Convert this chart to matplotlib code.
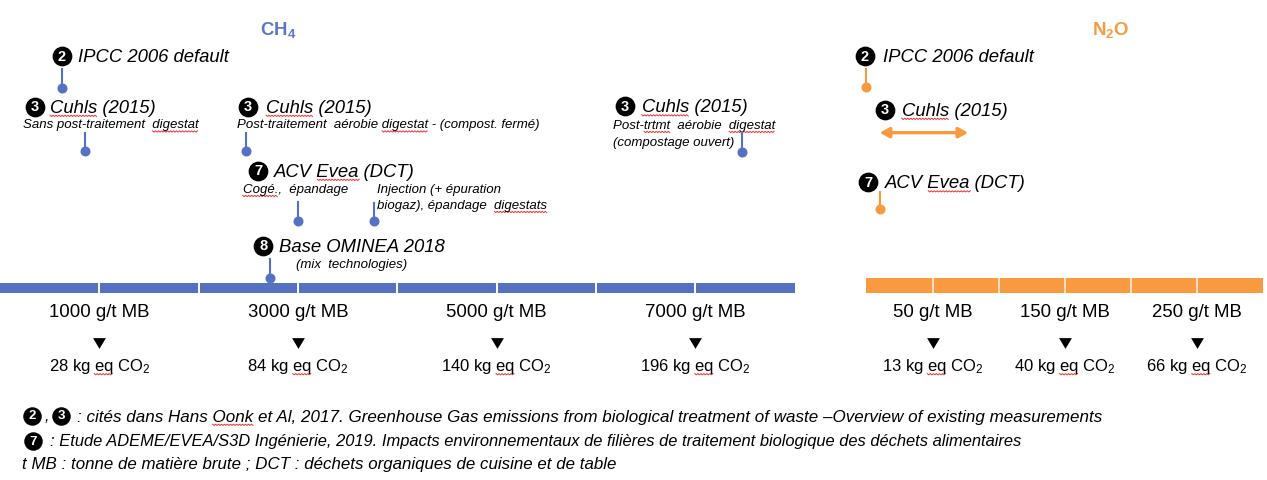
import matplotlib
matplotlib.use('Agg')
import matplotlib.pyplot as plt
from matplotlib import font_manager as fm
import numpy as np

plt.rcParams['font.family'] = ['Liberation Sans', 'DejaVu Sans']
plt.rcParams['mathtext.fontset'] = 'custom'
plt.rcParams['mathtext.rm'] = 'Liberation Sans'
plt.rcParams['mathtext.it'] = 'Liberation Sans:italic'
plt.rcParams['mathtext.bf'] = 'Liberation Sans:bold'

# ---------------- data ----------------
ch4_ticks = [1000, 3000, 5000, 7000]          # g/t MB
ch4_co2 = [28, 84, 140, 196]                  # kg eq CO2
ch4_max = 8000
ch4_step = 1000
n2o_ticks = [50, 150, 250]
n2o_co2 = [13, 40, 66]
n2o_max = 300
n2o_step = 50

ch4_sources = ['IPCC 2006 default', 'Cuhls (2015) sans post-traitement',
               'Cuhls (2015) compost. fermé', 'ACV Evea cogé.',
               'ACV Evea injection', 'Base OMINEA 2018',
               'Cuhls (2015) compostage ouvert']
ch4_values = [627, 856, 2477, 2997, 3765, 2721, 7470]
n2o_sources = ['IPCC 2006 default', 'ACV Evea (DCT)']
n2o_values = [0, 10]
n2o_cuhls_range = [10, 77]

# ---------------- style / layout ----------------
BLUE = '#5572c2'
TITLE_BLUE = '#5d77c6'
ORANGE = '#f99a3e'
W, H, DPI = 1267, 480, 100

fig = plt.figure(figsize=(W / DPI, H / DPI), dpi=DPI)
fig.patch.set_facecolor('white')
lay = fig.add_axes([0, 0, 1, 1]); lay.set_xlim(0, W); lay.set_ylim(H, 0); lay.axis('off')
CH4_PX = 0.09933                      # px per g/t
axc = fig.add_axes([0, 0, 1, 1]); axc.set_xlim(0, W / CH4_PX); axc.set_ylim(H, 0); axc.axis('off')
N2O_X0, N2O_PX = 866.4, 1.3225
axn = fig.add_axes([0, 0, 1, 1]); axn.set_xlim(-N2O_X0 / N2O_PX, (W - N2O_X0) / N2O_PX)
axn.set_ylim(H, 0); axn.axis('off')

renderer = fig.canvas.get_renderer()
names = {f.name for f in fm.fontManager.ttflist}
FOOT_FAM = ['Liberation Sans Narrow', 'DejaVu Sans'] if 'Liberation Sans Narrow' in names else ['Liberation Sans', 'DejaVu Sans']


def base(yc, size):
    return yc + 0.358 * size / 0.72


def measure(s, size, **kw):
    t = lay.text(0, 0, s, fontsize=size, **kw)
    w = t.get_window_extent(renderer=renderer).width
    t.remove()
    return w


def squiggle(x0, x1, yb):
    xs = np.arange(x0, x1 + 0.01, 1.5)
    ys = yb + 2.6 + np.where(np.arange(len(xs)) % 2 == 0, 0.0, 1.3)
    lay.plot(xs, ys, color='#e8322e', lw=0.7, solid_joinstyle='miter')


def txt(x, yc, s, size, words=(), ha='left', ax=None, **kw):
    ax = ax or lay
    yb = base(yc, size)
    t = ax.text(x, yb, s, fontsize=size, va='baseline', ha=ha, **kw)
    if words:
        xpix = ax.transData.transform((x, yb))[0]
        total = measure(s, size, **kw)
        start = xpix - (total / 2 if ha == 'center' else 0)
        for wd in words:
            i = s.index(wd)
            pre = s[:i] + wd
            e = start + measure(pre, size, **kw)
            b = e - measure(wd, size, **kw)
            squiggle(b, e, yb)
    return t


def numbadge(cx, cy, d, ms=13.2, fs=10.5):
    lay.plot(cx, cy, 'o', ms=ms, color='black', mec='black', zorder=5)
    lay.text(cx, cy + 0.6, d, color='white', fontsize=fs, fontweight='bold',
             ha='center', va='center', zorder=6)


LBL = 13.3
SUB = 9.5

# ---------------- titles ----------------
lay.text(277.7, 30, r'$\mathbf{CH_4}$', color=TITLE_BLUE, fontsize=13.4, ha='center', va='center')
lay.text(1111, 30, r'$\mathbf{N_2O}$', color=ORANGE, fontsize=13.4, ha='center', va='center')

# ---------------- scale bars ----------------
axc.barh(288, ch4_max, left=0, height=10, color=BLUE)
axc.vlines(np.arange(ch4_step, ch4_max, ch4_step), 283, 293, color='white', lw=1.4)
axn.barh(285.5, n2o_max, left=0, height=15, color=ORANGE)
axn.vlines(np.arange(n2o_step, n2o_max, n2o_step), 278, 293, color='#fde3cc', lw=1.4)

tri = [(-1, 0.84), (1, 0.84), (0, -0.84)]
for ax, ticks, co2 in ((axc, ch4_ticks, ch4_co2), (axn, n2o_ticks, n2o_co2)):
    for v, c in zip(ticks, co2):
        ax.text(v, base(310.5, 13.4), f'{v} g/t MB', fontsize=13.4, ha='center', va='baseline')
        ax.plot(v, 343.3, marker=tri, ms=9.2, color='black', mew=0)
        txt(v, 365, f'{c} kg eq CO$_2$', 12, words=('eq',), ha='center', ax=ax)

# ---------------- CH4 source markers ----------------
ch4_pos = [(87.5, 69), (151, 133), (151, 133), (221, 202), (221, 203), (278, 259), (151.5, 132)]
for v, (yd, yt) in zip(ch4_values, ch4_pos):
    axc.plot([v, v], [yt, yd], color=BLUE, lw=1.5)
    axc.plot(v, yd, 'o', ms=6.2, color=BLUE)

# ---------------- N2O source markers ----------------
n2o_pos = [(87.3, 69), (209, 192)]
for v, (yd, yt) in zip(n2o_values, n2o_pos):
    axn.plot([v, v], [yt, yd], color=ORANGE, lw=1.5)
    axn.plot(v, yd, 'o', ms=6.2, color=ORANGE)
axn.annotate('', xy=(n2o_cuhls_range[1], 132.7), xytext=(n2o_cuhls_range[0], 132.7),
             arrowprops=dict(arrowstyle='<|-|>,head_length=0.55,head_width=0.3',
                             color=ORANGE, lw=2.4, shrinkA=0, shrinkB=0))

# ---------------- labels ----------------
IT = dict(style='italic')
numbadge(62, 56, '2');      txt(78.3, 55.5, 'IPCC 2006 default', LBL, **IT)
numbadge(34.5, 106.5, '3'); txt(50, 106, 'Cuhls (2015)', LBL, words=('Cuhls',), **IT)
txt(23.3, 123.5, 'Sans post-traitement  digestat', SUB, words=('digestat',), **IT)
numbadge(248, 106.5, '3');  txt(266, 106, 'Cuhls (2015)', LBL, words=('Cuhls',), **IT)
txt(237.3, 123.5, 'Post-traitement  aérobie digestat - (compost. fermé)', SUB, words=('digestat',), **IT)
numbadge(258, 170.5, '7');  txt(274, 170, 'ACV Evea (DCT)', LBL, words=('Evea',), **IT)
txt(242.7, 188, 'Cogé.,  épandage', SUB, words=('Cogé.',), **IT)
txt(377.3, 188, 'Injection (+ épuration', SUB, **IT)
txt(377.3, 204, 'biogaz), épandage  digestats', SUB, words=('digestats',), **IT)
numbadge(263.3, 245.5, '8'); txt(279, 245, 'Base OMINEA 2018', LBL, **IT)
txt(296, 263.5, '(mix  technologies)', SUB, **IT)
numbadge(624.7, 106, '3');  txt(641.7, 105.5, 'Cuhls (2015)', LBL, words=('Cuhls',), **IT)
txt(613.3, 124, 'Post-trtmt  aérobie  digestat', SUB, words=('trtmt', 'digestat'), **IT)
txt(613.3, 141.5, '(compostage ouvert)', SUB, **IT)

numbadge(865, 56, '2');     txt(882.7, 55.5, 'IPCC 2006 default', LBL, **IT)
numbadge(885, 109.5, '3');  txt(901.7, 109, 'Cuhls (2015)', LBL, words=('Cuhls',), **IT)
numbadge(868.3, 182, '7');  txt(885, 181.5, 'ACV Evea (DCT)', LBL, words=('Evea',), **IT)

# ---------------- footnotes ----------------
def fit(x, yc, s, right, words=()):
    size = 12.0
    w = measure(s, size, family=FOOT_FAM, style='italic')
    size = size * (right - x) / w
    txt(x, yc, s, size, words=words, family=FOOT_FAM, style='italic')

FB = dict(ms=12.3, fs=9.5)
numbadge(32, 415.5, '2', **FB)
lay.text(44.5, base(415.5, 11.5), ',', fontsize=11.5, va='baseline', family=FOOT_FAM, style='italic')
numbadge(61.3, 415.5, '3', **FB)
fit(77, 415.5, ': cités dans Hans Oonk et Al, 2017. Greenhouse Gas emissions from biological '
    'treatment of waste –Overview of existing measurements', 1098, words=('Oonk',))
numbadge(33, 441, '7', **FB)
fit(50, 440.5, ': Etude ADEME/EVEA/S3D Ingénierie, 2019. Impacts environnementaux de filières '
    'de traitement biologique des déchets alimentaires', 1022)
fit(21.7, 462.5, 't MB : tonne de matière brute ; DCT : déchets organiques de cuisine et de table', 615)

fig.savefig('out.png', dpi=DPI, facecolor='white')
